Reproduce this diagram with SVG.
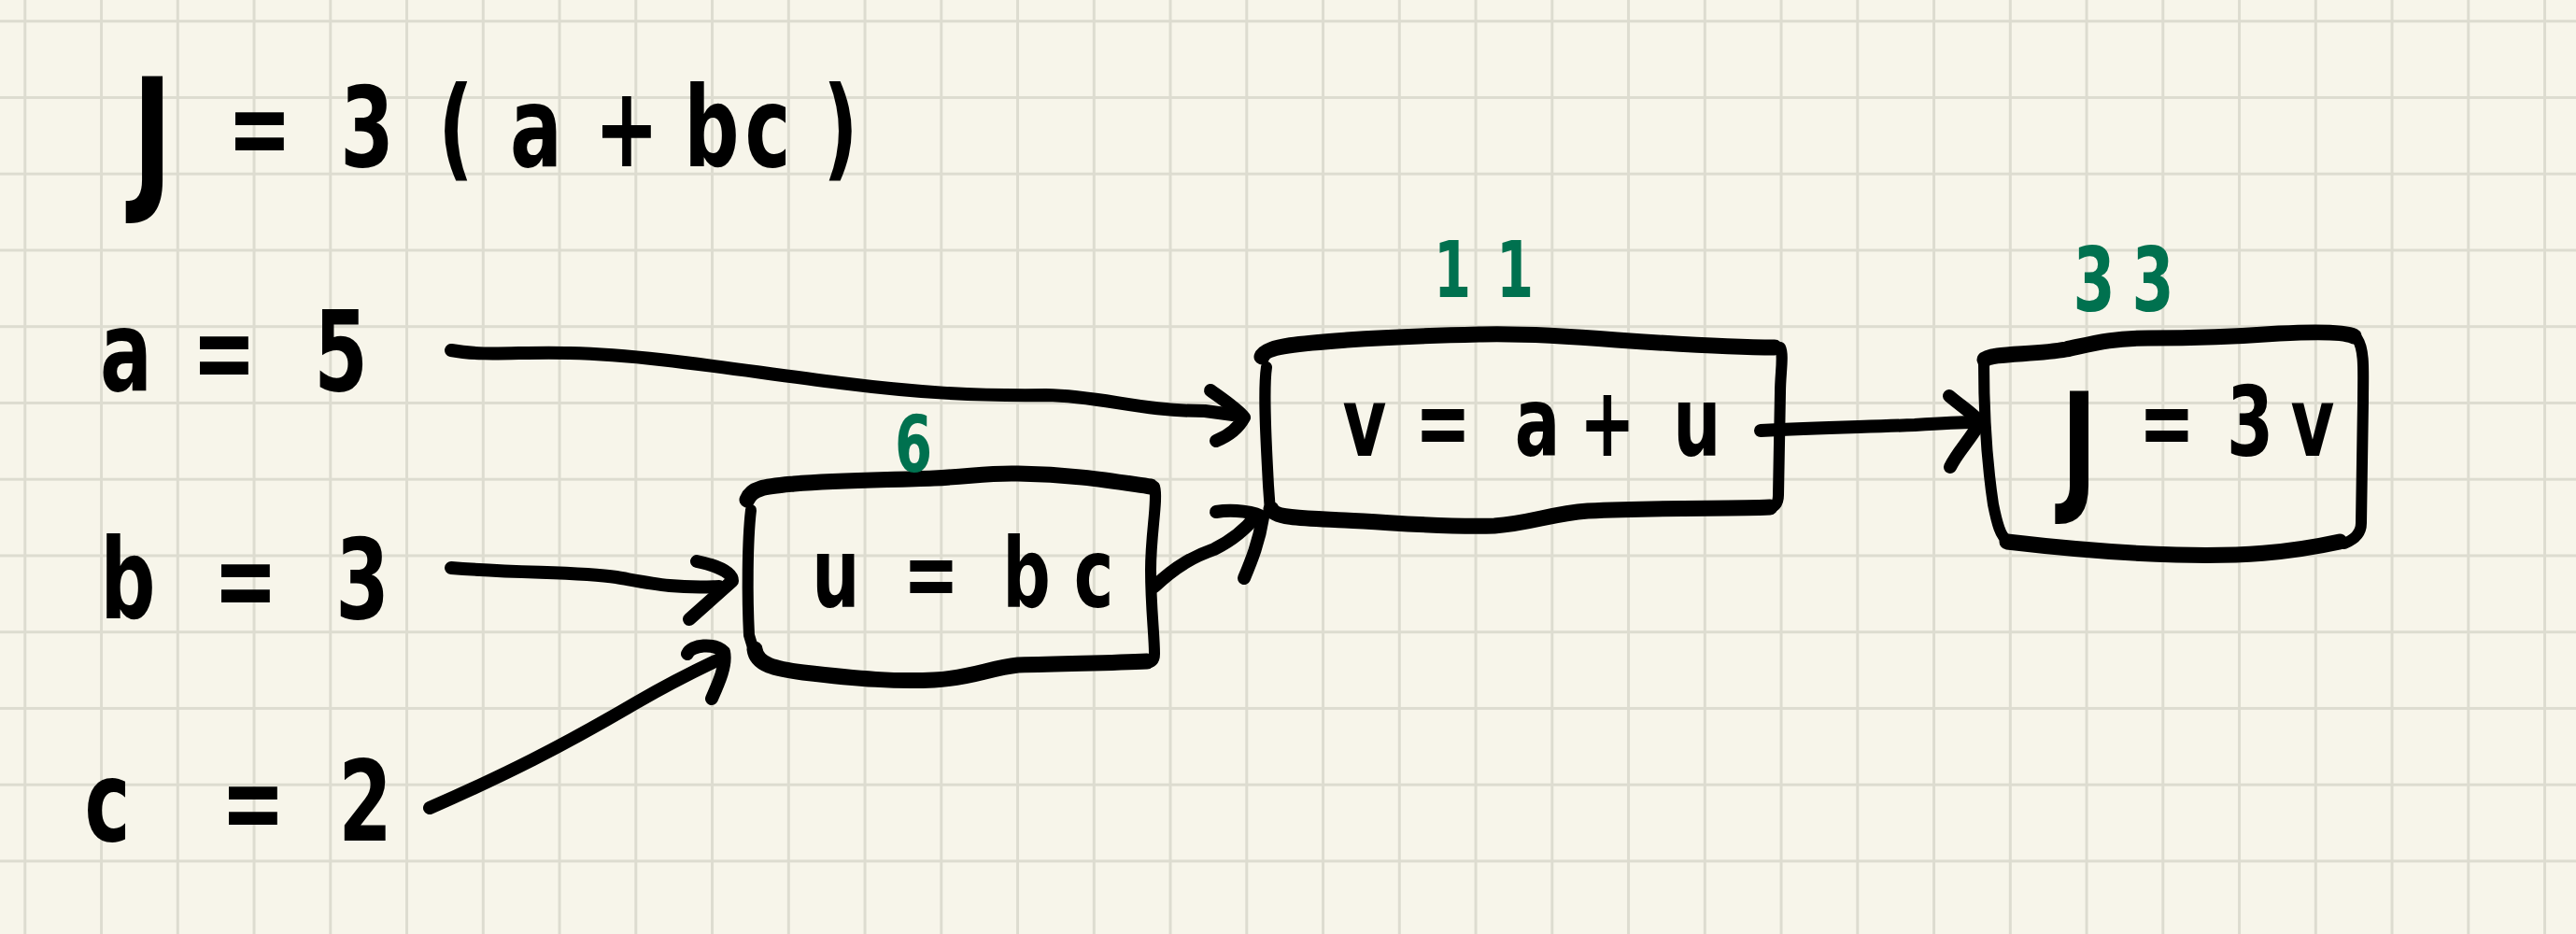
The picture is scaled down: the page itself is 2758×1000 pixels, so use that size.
<svg xmlns="http://www.w3.org/2000/svg" width="2758" height="1000" viewBox="0 0 2758 1000">
<style>
.hw{font-family:"DejaVu Sans Condensed","DejaVu Sans",sans-serif;font-weight:bold;fill:#000;text-anchor:middle}
.gr{font-family:"DejaVu Sans Condensed","DejaVu Sans",sans-serif;font-weight:bold;fill:#00714f;text-anchor:middle}
.ln{fill:none;stroke:#000;stroke-width:14;stroke-linecap:round;stroke-linejoin:round}
.bh{fill:none;stroke:#000;stroke-width:17;stroke-linecap:round;stroke-linejoin:round}
.bv{fill:none;stroke:#000;stroke-width:12;stroke-linecap:round;stroke-linejoin:round}
</style>
<defs>
<pattern id="grid" patternUnits="userSpaceOnUse" x="25.3" y="21.2" width="81.75" height="81.75">
<rect x="0" y="0" width="3" height="81.75" fill="#dddcd0"/>
<rect x="0" y="0" width="81.75" height="3" fill="#dddcd0"/>
</pattern>
</defs>
<rect width="2758" height="1000" fill="#f7f5ea"/>
<rect width="2758" height="1000" fill="url(#grid)"/>

<g id="title" transform="translate(0,178) scale(1,1.3)">
<text class="hw" font-size="92"><tspan font-size="130" x="163" y="21">J</tspan><tspan x="210 278 330 393 488 574 671 762 822 900" y="0"> = 3(a+bc)</tspan></text>
</g>

<g id="node-a" transform="translate(0,418) scale(1,1.3)">
<text class="hw" font-size="92" x="135 190 240 300 365" y="0">a = 5</text>
</g>
<g id="node-b" transform="translate(0,662) scale(1,1.3)">
<text class="hw" font-size="92" x="137 200 263 325 388" y="0">b = 3</text>
</g>
<g id="node-c" transform="translate(0,900) scale(1,1.3)">
<text class="hw" font-size="92" x="115 193 271 330 391" y="0">c = 2</text>
</g>

<g id="node-u">
<path class="bh" d="M800,535 C805,522 820,521 850,518 C900,514 950,514 1000,512 C1040,510 1060,506 1090,507 C1150,508 1190,515 1232,521"/>
<path class="bv" d="M1236,521 C1240,535 1232,570 1232,610 C1232,650 1236,680 1236,700 C1236,708 1232,710 1225,710"/>
<path class="bh" d="M808,695 C810,712 830,716 860,720 C920,727 960,730 1000,728 C1040,726 1060,715 1090,712 C1150,710 1190,710 1228,708"/>
<path class="bv" d="M804,546 C800,580 800,640 802,680 L808,700"/>
<g transform="translate(0,650) scale(1,1.3)">
<text class="hw" font-size="80" x="895 946 997 1048 1099 1171" y="0">u = bc</text>
</g>
<g transform="translate(0,505) scale(1,1.3)">
<text class="gr" font-size="64" x="978" y="0">6</text>
</g>
</g>

<g id="node-v">
<path class="bh" d="M1351,382 C1355,370 1400,367 1442,364 C1500,360 1545,359 1587,358 C1630,357 1680,360 1731,364 C1790,368 1850,372 1900,372"/>
<path class="bv" d="M1906,372 C1910,380 1906,400 1906,420 L1904,530 C1904,540 1900,544 1890,545"/>
<path class="bh" d="M1361,545 C1365,555 1400,555 1440,557 C1500,560 1550,565 1600,563 C1640,560 1660,550 1700,547 C1780,543 1850,545 1895,543"/>
<path class="bv" d="M1356,393 C1352,420 1356,480 1358,520 L1360,548"/>
<g transform="translate(0,488) scale(1,1.3)">
<text class="hw" font-size="80" x="1461 1503 1545 1595 1646 1721 1817" y="0">v = a+u</text>
</g>
<g transform="translate(0,318) scale(1,1.3)">
<text class="gr" font-size="64" x="1555 1622" y="0">11</text>
</g>
</g>

<g id="node-J">
<path class="bh" d="M2125,385 C2130,378 2180,380 2212,374 C2240,368 2260,362 2300,362 C2360,362 2400,360 2440,357 C2480,355 2510,355 2520,360"/>
<path class="bv" d="M2524,363 C2532,375 2530,400 2530,430 L2528,560 C2528,572 2520,578 2510,582"/>
<path class="bh" d="M2149,580 C2200,586 2260,592 2330,594 C2400,596 2450,592 2505,580"/>
<path class="bv" d="M2124,388 C2124,450 2128,500 2134,540 C2138,560 2142,575 2149,578"/>
<g transform="translate(0,488) scale(1,1.3)">
<text class="hw" font-size="80"><tspan font-size="118" x="2226" y="32">J</tspan><tspan x="2273 2320 2365 2409 2476" y="0"> = 3v</tspan></text>
</g>
<g transform="translate(0,333) scale(1,1.3)">
<text class="gr" font-size="72" x="2242 2305" y="0">33</text>
</g>
</g>

<g id="connectors">
<path class="ln" d="M483,375 C520,382 560,376 610,378 C700,380 800,398 900,410 C980,420 1040,424 1120,423 C1180,424 1220,440 1290,440 L1320,444"/>
<path class="ln" d="M1296,418 C1310,428 1325,438 1332,447 C1325,460 1312,468 1302,472"/>
<path class="ln" d="M483,608 C560,614 620,612 660,618 C700,625 720,630 770,628"/>
<path class="ln" d="M746,601 C765,605 784,612 784,622 L738,663"/>
<path class="ln" d="M460,865 C540,830 600,800 680,753 C720,730 740,720 770,706"/>
<path class="ln" d="M736,700 C740,690 765,688 775,698 C778,712 770,730 762,748"/>
<path class="ln" d="M1236,628 C1260,605 1280,595 1300,588 C1320,578 1335,565 1345,552"/>
<path class="ln" d="M1302,548 C1320,545 1345,548 1352,554 C1348,580 1340,600 1332,619"/>
<path class="ln" d="M1885,461 C1950,458 2000,457 2050,455 C2080,453 2100,452 2115,452"/>
<path class="ln" d="M2087,424 C2100,435 2115,445 2120,452 C2110,470 2095,485 2088,500"/>
</g>
</svg>
